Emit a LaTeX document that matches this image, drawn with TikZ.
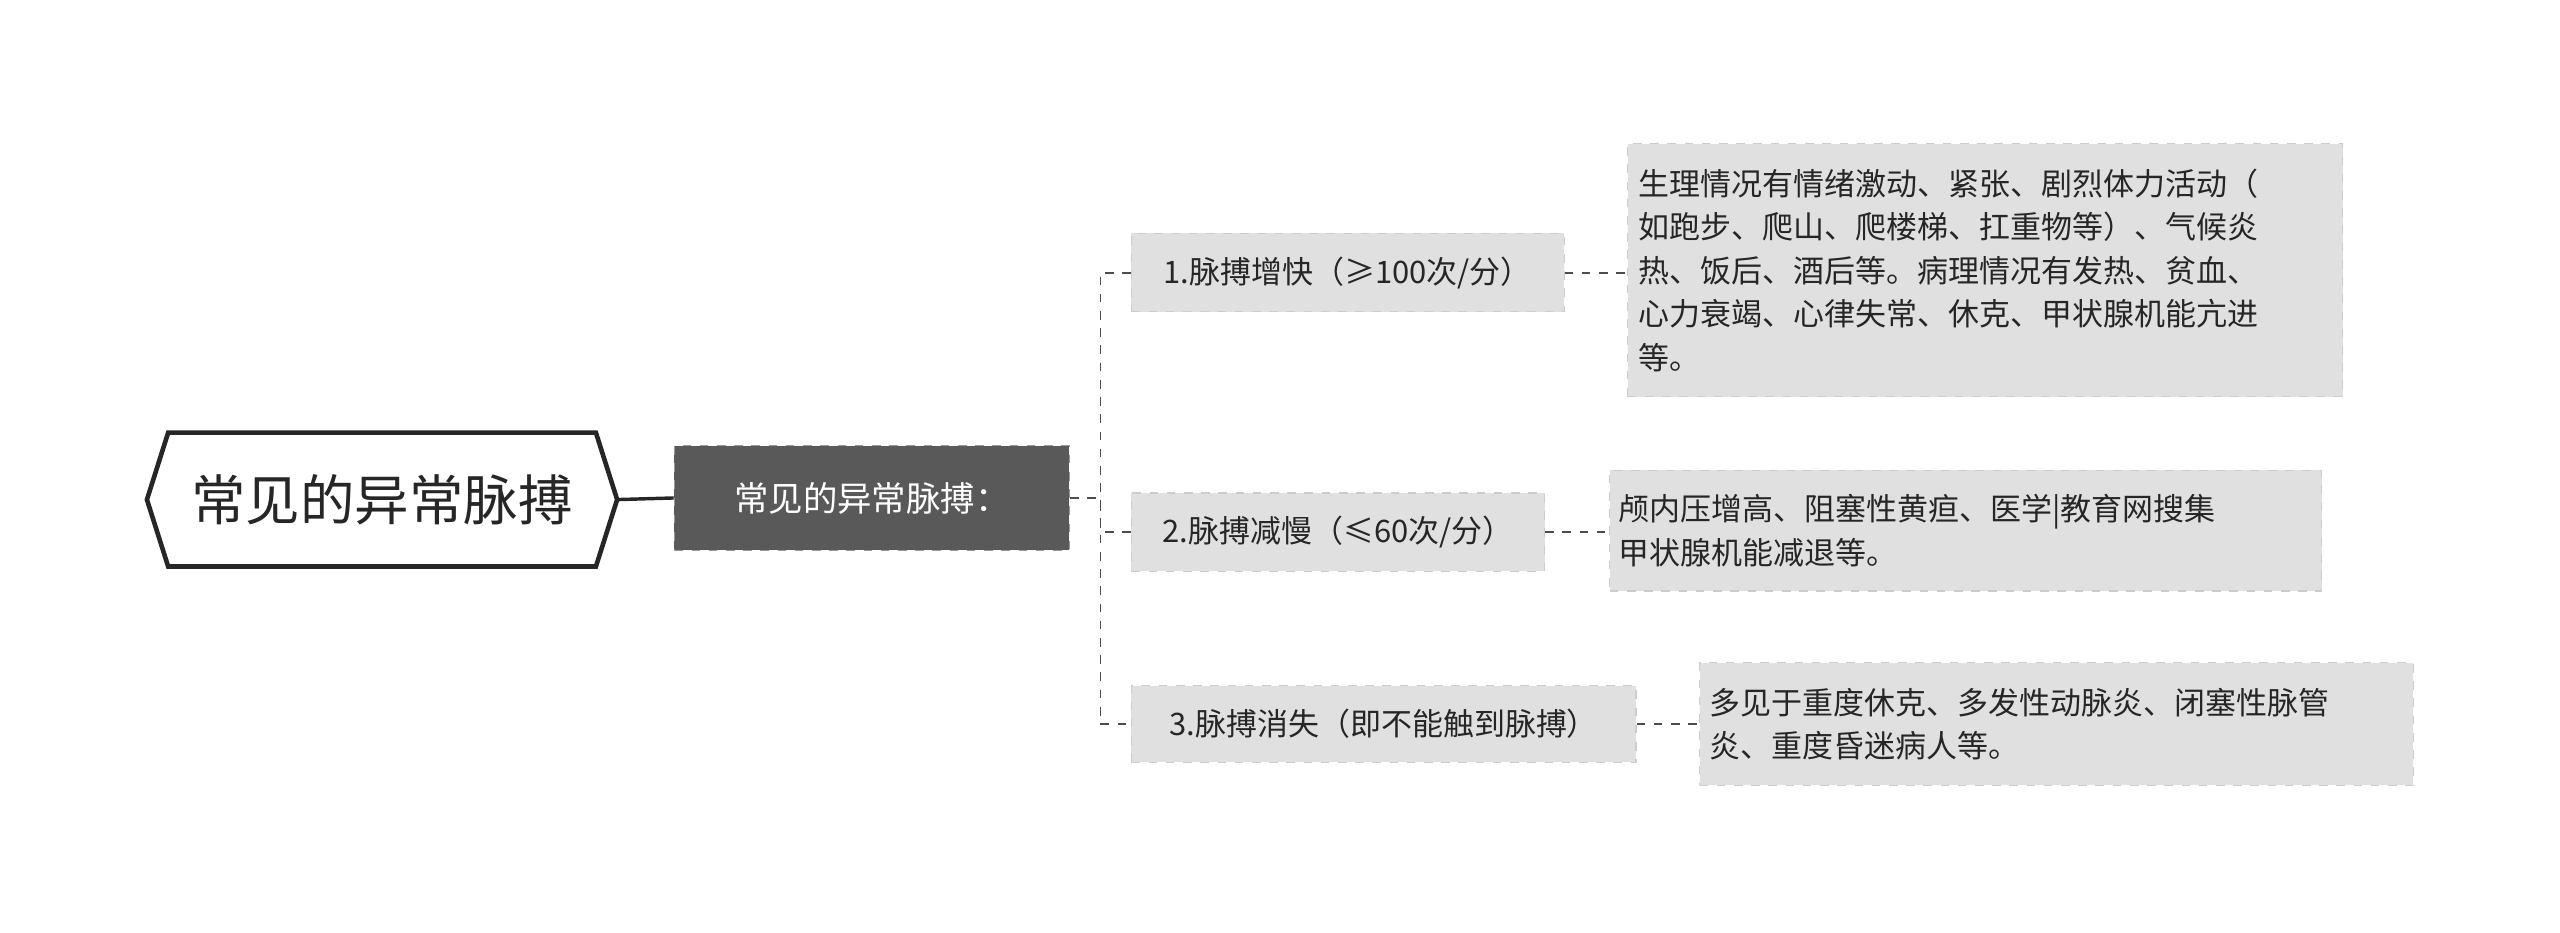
\documentclass[tikz,border=0pt]{standalone}
\usepackage{fontspec}
\setmainfont{Noto Sans CJK SC}
\begin{document}
\begin{tikzpicture}[x=0.02cm,y=-0.02cm,
  lvl/.style={fill=black!12,draw=black!20,dashed,inner sep=0pt,text=black!85,font=\fontsize{10.8pt}{13pt}\selectfont},
  leaf/.style={lvl,align=left,font=\fontsize{10.8pt}{15.2pt}\selectfont},
  con/.style={draw=black!70,dashed,line width=0.6pt}]
\useasboundingbox (0,0) rectangle (1568,571);
\draw[line width=1.6pt,draw=black!85,fill=white] (90,306)--(103,265)--(365,265)--(378,306)--(365,347)--(103,347)--cycle;
\node[font=\fontsize{19pt}{22pt}\selectfont,text=black!85] (root) at (234,306) {常见的异常脉搏};
\node[fill=black!65,draw=black!40,dashed,text=white,minimum width=242*0.02cm,minimum height=64*0.02cm,inner sep=0pt,font=\fontsize{12pt}{14pt}\selectfont] (m) at (534,305) {常见的异常脉搏：};
\node[lvl,minimum width=265*0.02cm,minimum height=48*0.02cm] (c1) at (825.5,167) {1.脉搏增快（≥100次/分）};
\node[lvl,minimum width=253*0.02cm,minimum height=48*0.02cm] (c2) at (819.5,326) {2.脉搏减慢（≤60次/分）};
\node[lvl,minimum width=309*0.02cm,minimum height=47*0.02cm] (c3) at (847.5,443.5) {3.脉搏消失（即不能触到脉搏）};
\node[leaf,minimum width=438*0.02cm,minimum height=155*0.02cm,text width=425*0.02cm] (l1) at (1216,165.5) {生理情况有情绪激动、紧张、剧烈体力活动（\\如跑步、爬山、爬楼梯、扛重物等）、气候炎\\热、饭后、酒后等。病理情况有发热、贫血、\\心力衰竭、心律失常、休克、甲状腺机能亢进\\等。};
\node[leaf,minimum width=436*0.02cm,minimum height=74*0.02cm,text width=425*0.02cm] (l2) at (1204,325) {颅内压增高、阻塞性黄疸、医学|教育网搜集\\甲状腺机能减退等。};
\node[leaf,minimum width=437*0.02cm,minimum height=75*0.02cm,text width=425*0.02cm] (l3) at (1259.5,443.5) {多见于重度休克、多发性动脉炎、闭塞性脉管\\炎、重度昏迷病人等。};
\draw[line width=1.2pt,draw=black!85] (378,306) -- (m.west);
\coordinate (j) at (674,305);
\draw[con] (m.east) -- (j);
\draw[con] (c1.west) -| (j) |- (c3.west);
\draw[con] (c2.west) -| (j);
\draw[con] (c1.east) -- (l1.west |- c1.east);
\draw[con] (c2.east) -- (l2.west |- c2.east);
\draw[con] (c3.east) -- (l3.west |- c3.east);
\end{tikzpicture}
\end{document}
